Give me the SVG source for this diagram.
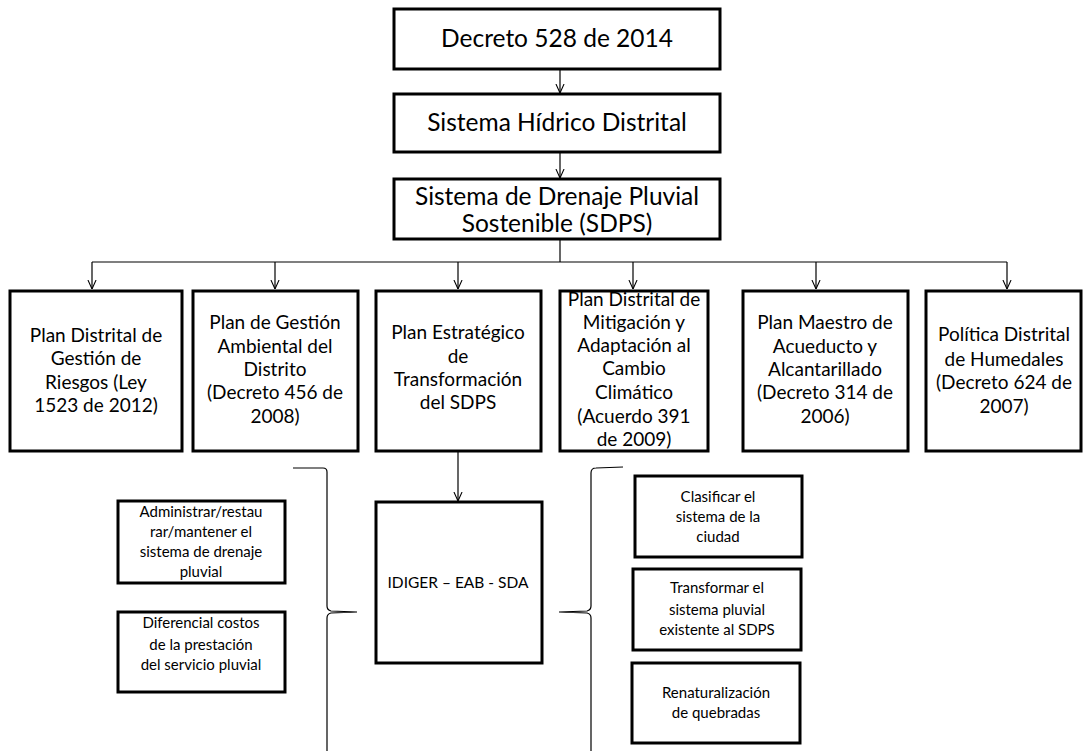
<svg xmlns="http://www.w3.org/2000/svg" width="1085" height="751" viewBox="0 0 1085 751">
<defs>
<marker id="arr" viewBox="0 0 10 10" refX="10" refY="5" markerWidth="9" markerHeight="10" markerUnits="userSpaceOnUse" orient="auto">
<path d="M0,0.5 L10,5 L0,9.5" fill="none" stroke="#000" stroke-width="1.2"/>
</marker>
</defs>
<style>
text{font-family:Lato,"Liberation Sans",sans-serif;fill:#000;text-anchor:middle}
.box{fill:#fff;stroke:#000;stroke-width:3}
.big{font-size:24.5px}
.mid{font-size:19px}
.sm{font-size:15px}
.id{font-size:15.5px}
.con{fill:none;stroke:#000;stroke-width:1.2}
</style>
<g id="connectors">
<line class="con" x1="560" y1="69" x2="560" y2="93" marker-end="url(#arr)"/>
<line class="con" x1="560" y1="152" x2="560" y2="178" marker-end="url(#arr)"/>
<polyline class="con" points="560,239 560,262"/>
<polyline class="con" points="92,262 1007,262"/>
<line class="con" x1="92" y1="262" x2="92" y2="289" marker-end="url(#arr)"/>
<line class="con" x1="275" y1="262" x2="275" y2="289" marker-end="url(#arr)"/>
<line class="con" x1="458" y1="262" x2="458" y2="289" marker-end="url(#arr)"/>
<line class="con" x1="633" y1="262" x2="633" y2="289" marker-end="url(#arr)"/>
<line class="con" x1="816" y1="262" x2="816" y2="289" marker-end="url(#arr)"/>
<line class="con" x1="1007" y1="262" x2="1007" y2="289" marker-end="url(#arr)"/>
<line class="con" x1="458" y1="451" x2="458" y2="501" marker-end="url(#arr)"/>
<path class="con" d="M293,468 L323,468 Q327,468 327,472 L327,606 Q327,610 331,611 L357,612 L331,613 Q327,614 327,618 L327,751"/>
<path class="con" d="M623,467 L596,468 Q591,468 591,473 L591,606 Q591,610 587,611 L559,612 L587,613 Q591,614 591,618 L591,751"/>
</g>
<g id="n1"><rect class="box" x="394" y="9" width="326" height="60"/><text class="big" x="557" y="47">Decreto 528 de 2014</text></g>
<g id="n2"><rect class="box" x="394" y="94" width="326" height="58"/><text class="big" x="557" y="131">Sistema Hídrico Distrital</text></g>
<g id="n3"><rect class="box" x="394" y="179" width="326" height="60"/><text class="big" x="557" y="205">Sistema de Drenaje Pluvial</text><text class="big" x="557" y="232">Sostenible (SDPS)</text></g>
<g id="p1"><rect class="box" x="10" y="291" width="172" height="160"/><text class="mid" x="96"><tspan x="96" y="342">Plan Distrital de</tspan><tspan x="96" y="365">Gestión de</tspan><tspan x="96" y="389">Riesgos (Ley</tspan><tspan x="96" y="412">1523 de 2012)</tspan></text></g>
<g id="p2"><rect class="box" x="193" y="291" width="165" height="160"/><text class="mid"><tspan x="275" y="329">Plan de Gestión</tspan><tspan x="275" y="353">Ambiental del</tspan><tspan x="275" y="376">Distrito</tspan><tspan x="275" y="399">(Decreto 456 de</tspan><tspan x="275" y="423">2008)</tspan></text></g>
<g id="p3"><rect class="box" x="376" y="291" width="165" height="160"/><text class="mid"><tspan x="458" y="339">Plan Estratégico</tspan><tspan x="458" y="363">de</tspan><tspan x="458" y="386">Transformación</tspan><tspan x="458" y="409">del SDPS</tspan></text></g>
<g id="p4"><rect class="box" x="560" y="291" width="148" height="160"/><text class="mid"><tspan x="634" y="306">Plan Distrital de</tspan><tspan x="634" y="329">Mitigación y</tspan><tspan x="634" y="352">Adaptación al</tspan><tspan x="634" y="375">Cambio</tspan><tspan x="634" y="399">Climático</tspan><tspan x="634" y="423">(Acuerdo 391</tspan><tspan x="634" y="446">de 2009)</tspan></text></g>
<g id="p5"><rect class="box" x="743" y="291" width="165" height="160"/><text class="mid"><tspan x="825" y="329">Plan Maestro de</tspan><tspan x="825" y="353">Acueducto y</tspan><tspan x="825" y="376">Alcantarillado</tspan><tspan x="825" y="399">(Decreto 314 de</tspan><tspan x="825" y="423">2006)</tspan></text></g>
<g id="p6"><rect class="box" x="926" y="291" width="155" height="160"/><text class="mid"><tspan x="1004" y="341">Política Distrital</tspan><tspan x="1004" y="366">de Humedales</tspan><tspan x="1004" y="389">(Decreto 624 de</tspan><tspan x="1004" y="413">2007)</tspan></text></g>
<g id="idiger"><rect class="box" x="376" y="502" width="166" height="161"/><text class="id" x="458" y="588">IDIGER – EAB - SDA</text></g>
<g id="a1"><rect class="box" x="118" y="501" width="167" height="82"/><text class="sm"><tspan x="201" y="517">Administrar/restau</tspan><tspan x="201" y="537">rar/mantener el</tspan><tspan x="201" y="557">sistema de drenaje</tspan><tspan x="201" y="577">pluvial</tspan></text></g>
<g id="a2"><rect class="box" x="118" y="612" width="167" height="80"/><text class="sm"><tspan x="201" y="628">Diferencial costos</tspan><tspan x="201" y="650">de la prestación</tspan><tspan x="201" y="670">del servicio pluvial</tspan></text></g>
<g id="b1"><rect class="box" x="635" y="476" width="167" height="81"/><text class="sm"><tspan x="718" y="502">Clasificar el</tspan><tspan x="718" y="522">sistema de la</tspan><tspan x="718" y="542">ciudad</tspan></text></g>
<g id="b2"><rect class="box" x="633" y="569" width="168" height="81"/><text class="sm"><tspan x="717" y="593">Transformar el</tspan><tspan x="717" y="615">sistema pluvial</tspan><tspan x="717" y="635">existente al SDPS</tspan></text></g>
<g id="b3"><rect class="box" x="632" y="663" width="168" height="80"/><text class="sm"><tspan x="716" y="698">Renaturalización</tspan><tspan x="716" y="718">de quebradas</tspan></text></g>
</svg>
